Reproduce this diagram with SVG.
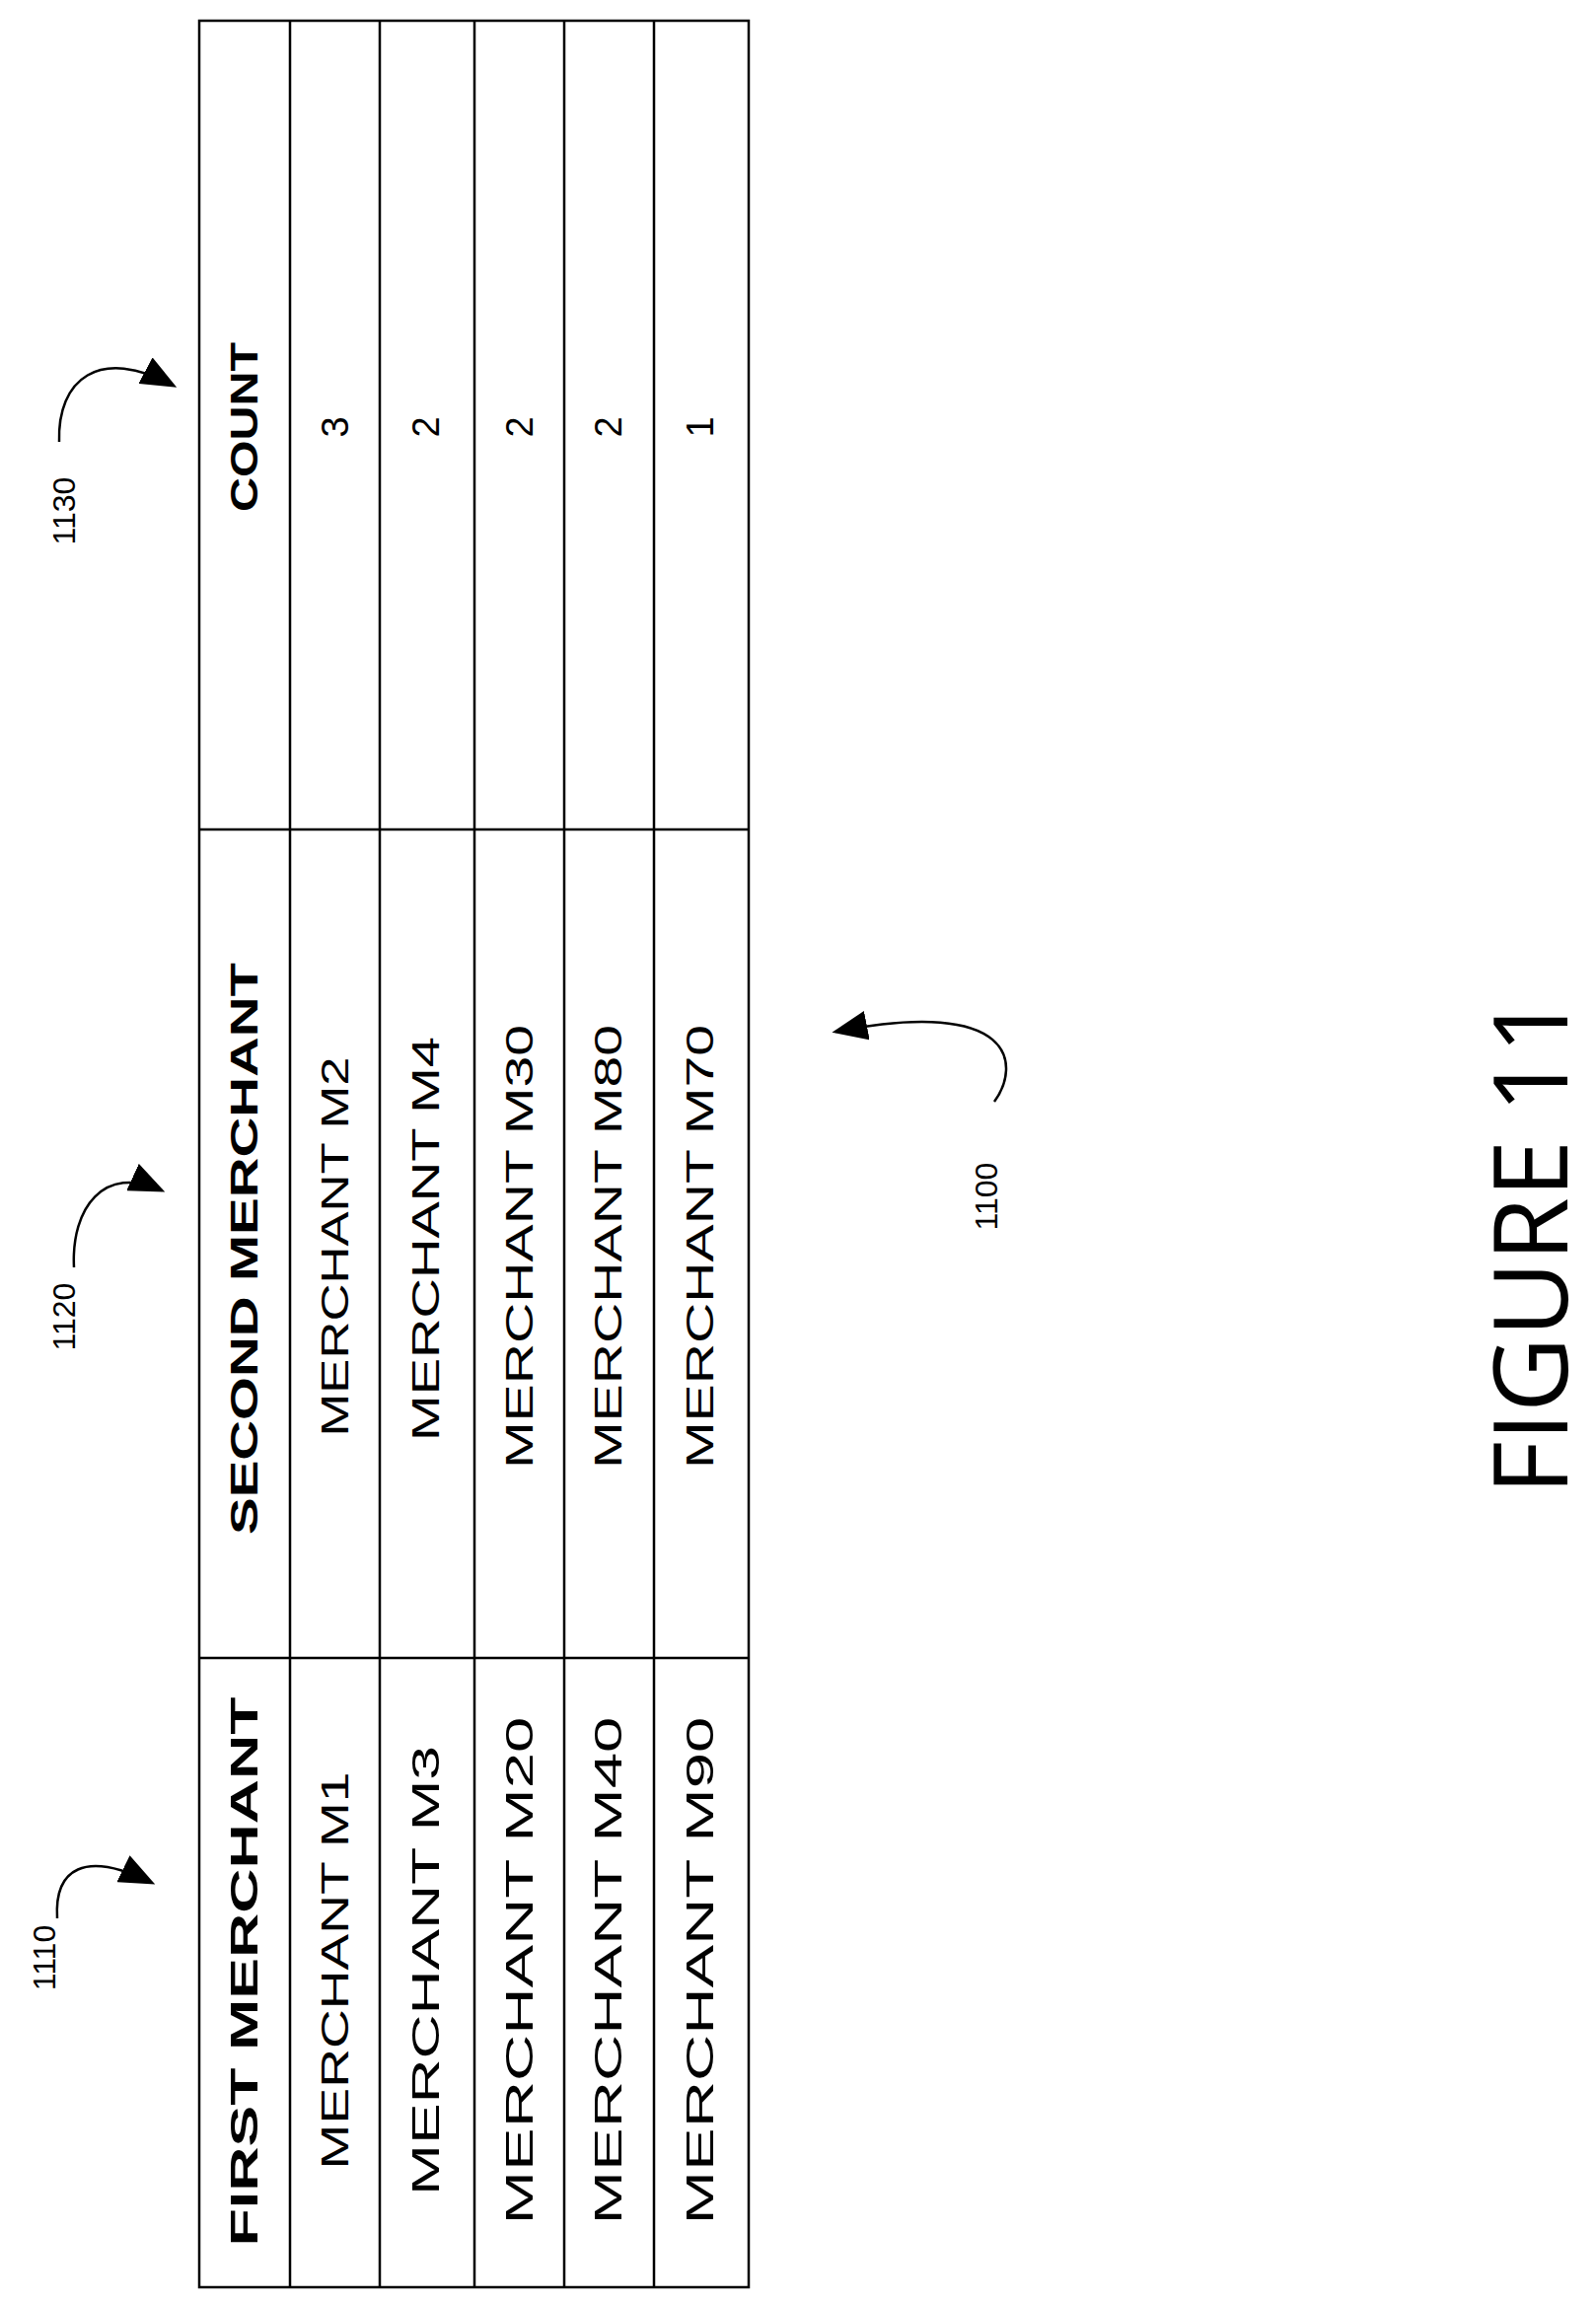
<svg xmlns="http://www.w3.org/2000/svg" width="1618" height="2335" viewBox="0 0 1618 2335">
<style>
.t{font-family:"Liberation Sans",Arial,sans-serif;font-size:38px;fill:#000;text-anchor:middle;dominant-baseline:central}
.h{font-weight:bold}
.ref{font-family:"Liberation Sans",Arial,sans-serif;font-size:32px;fill:#000;text-anchor:middle;dominant-baseline:central}
.ln{stroke:#000;stroke-width:2.5;fill:none}
.ar{stroke:#000;stroke-width:2.5;fill:none;marker-end:url(#ah)}
</style>
<defs>
<marker id="ah" viewBox="0 0 10 10" refX="9" refY="5" markerWidth="36" markerHeight="30" markerUnits="userSpaceOnUse" orient="auto" preserveAspectRatio="none"><path d="M0,0 L10,5 L0,10 z" fill="#000"/></marker>
</defs>
<rect width="1618" height="2335" fill="#fff"/>
<g id="table">
<rect x="202" y="21" width="557" height="2298" class="ln"/>
<line x1="294" y1="21" x2="294" y2="2319" class="ln"/>
<line x1="385" y1="21" x2="385" y2="2319" class="ln"/>
<line x1="481" y1="21" x2="481" y2="2319" class="ln"/>
<line x1="572" y1="21" x2="572" y2="2319" class="ln"/>
<line x1="663" y1="21" x2="663" y2="2319" class="ln"/>
<line x1="202" y1="841" x2="759" y2="841" class="ln"/>
<line x1="202" y1="1681" x2="759" y2="1681" class="ln"/>
</g>
<g id="col1">
<text class="t h" transform="translate(248,1999) rotate(-90)" textLength="557" lengthAdjust="spacingAndGlyphs">FIRST MERCHANT</text>
<text class="t" transform="translate(340,1998) rotate(-90)" textLength="403" lengthAdjust="spacingAndGlyphs">MERCHANT M1</text>
<text class="t" transform="translate(432,1998) rotate(-90)" textLength="456" lengthAdjust="spacingAndGlyphs">MERCHANT M3</text>
<text class="t" transform="translate(527,1998) rotate(-90)" textLength="515" lengthAdjust="spacingAndGlyphs">MERCHANT M20</text>
<text class="t" transform="translate(617,1998) rotate(-90)" textLength="515" lengthAdjust="spacingAndGlyphs">MERCHANT M40</text>
<text class="t" transform="translate(710,1998) rotate(-90)" textLength="515" lengthAdjust="spacingAndGlyphs">MERCHANT M90</text>
</g>
<g id="col2">
<text class="t h" transform="translate(248,1266) rotate(-90)" textLength="580" lengthAdjust="spacingAndGlyphs">SECOND MERCHANT</text>
<text class="t" transform="translate(340,1264) rotate(-90)" textLength="385" lengthAdjust="spacingAndGlyphs">MERCHANT M2</text>
<text class="t" transform="translate(432,1256) rotate(-90)" textLength="410" lengthAdjust="spacingAndGlyphs">MERCHANT M4</text>
<text class="t" transform="translate(527,1264) rotate(-90)" textLength="450" lengthAdjust="spacingAndGlyphs">MERCHANT M30</text>
<text class="t" transform="translate(617,1264) rotate(-90)" textLength="450" lengthAdjust="spacingAndGlyphs">MERCHANT M80</text>
<text class="t" transform="translate(710,1264) rotate(-90)" textLength="450" lengthAdjust="spacingAndGlyphs">MERCHANT M70</text>
</g>
<g id="col3">
<text class="t h" transform="translate(248,433) rotate(-90)" textLength="172" lengthAdjust="spacingAndGlyphs">COUNT</text>
<text class="t" transform="translate(340,433) rotate(-90)">3</text>
<text class="t" transform="translate(432,433) rotate(-90)">2</text>
<text class="t" transform="translate(527,433) rotate(-90)">2</text>
<text class="t" transform="translate(617,433) rotate(-90)">2</text>
<text class="t" transform="translate(710,433) rotate(-90)">1</text>
</g>
<g id="labels">
<text class="ref" transform="translate(45,1985) rotate(-90)">1110</text>
<text class="ref" transform="translate(65,1335) rotate(-90)">1120</text>
<text class="ref" transform="translate(65,518) rotate(-90)">1130</text>
<text class="ref" transform="translate(1000,1213) rotate(-90)">1100</text>
<text transform="translate(1548,1262) rotate(-90)" font-family="'Open Sans',sans-serif" font-size="105" text-anchor="middle" dominant-baseline="central">FIGURE 11</text>
</g>
<g id="connectors">
<path class="ar" d="M58,1945 C55,1895 85,1875 154,1909"/>
<path class="ar" d="M75,1285 C72,1225 105,1180 164,1207"/>
<path class="ar" d="M60,448 C58,385 100,350 176,391"/>
<path class="ar" d="M1008,1117 C1035,1080 1030,1010 847,1046"/>
</g>
</svg>
